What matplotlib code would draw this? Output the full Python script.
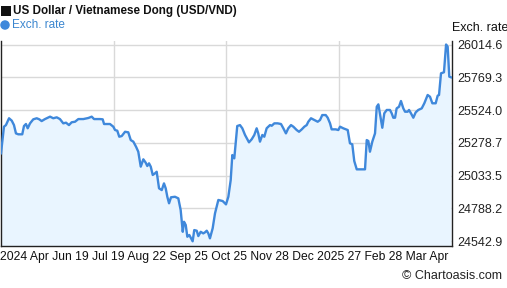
import matplotlib
matplotlib.use("Agg")
import matplotlib.pyplot as plt
from matplotlib.patches import Rectangle, Ellipse
import numpy as np

plt.rcParams['font.family'] = ['Liberation Sans', 'DejaVu Sans']

# day offset from start of period (~1 year) and USD/VND rate
days = [0, 2.4, 4, 6.5, 8.7, 10.5, 12.1, 14, 17.2, 18.6, 20.2, 21.6, 23.5, 26.1, 28.9, 31, 32.9, 35.6,
        39.7, 42.3, 45.1, 47.7, 50.4, 52.6, 55, 57.2, 59.9, 62.6, 66.6, 70.7, 73.4, 75.3, 80.1, 82.3,
        83.4, 88.2, 90.9, 92.3, 94.1, 95.7, 97.7, 100.4, 103, 105, 107.1, 109.3, 111.1, 113.1, 115.2,
        117.1, 118.4, 119.8, 121.2, 122.8, 124.6, 126, 127.9, 130.1, 131.9, 133.3, 134.6, 136, 137.6,
        140.8, 143.5, 145.4, 147.1, 148.1, 149.5, 150.8, 152.4, 153.8, 155.1, 156.4, 158.4, 159.7,
        161.6, 163.7, 165.1, 166.5, 167.8, 169.1, 171.3, 173.2, 175.9, 179.4, 182.1, 184, 185.9,
        187.2, 188.8, 191.2, 193.4, 195.3, 197.5, 200.7, 202.9, 205, 206.9, 208.2, 209.6, 211.5,
        213.1, 215, 216.3, 217.7, 219.1, 221.2, 223.9, 226.6, 228.5, 230.6, 232.5, 234.7, 236.6,
        239.3, 241.2, 243.4, 245.5, 247.4, 248.7, 250.9, 253.6, 256.3, 258.2, 260, 262.8, 264.4,
        266.3, 267.6, 270.9, 273, 274.4, 277, 280.6, 282.4, 284.3, 285.9, 287.9, 294.6, 296, 297.3,
        298.6, 300.5, 302.7, 304.1, 305.4, 307.3, 308.6, 310.2, 312.2, 314.8, 316.2, 317.5, 318.9,
        320.2, 322.1, 323.7, 325.6, 327, 329.1, 330.2, 331.8, 333.7, 335.6, 337.7, 340.5, 342.6,
        345.3, 347.2, 349.1, 351.8, 353.4, 354.5, 356.1, 358.5, 360.2, 361.5, 362.8, 364.2]
rate = [25201, 25400, 25412, 25463, 25445, 25412, 25350, 25343, 25343, 25405, 25420, 25388, 25425,
        25455, 25463, 25455, 25442, 25457, 25475, 25463, 25470, 25457, 25425, 25430, 25412, 25433,
        25437, 25457, 25457, 25465, 25475, 25457, 25457, 25455, 25420, 25420, 25400, 25375, 25370,
        25325, 25330, 25362, 25358, 25300, 25288, 25250, 25213, 25101, 25156, 25131, 25106, 25126,
        25101, 25039, 25051, 25063, 24939, 24926, 24976, 24939, 24876, 24827, 24872, 24876, 24864,
        24777, 24614, 24689, 24665, 24577, 24590, 24565, 24542.9, 24627, 24622, 24582, 24614, 24602,
        24610, 24622, 24602, 24565, 24640, 24752, 24852, 24844, 24819, 24876, 25001,
        25188, 25163, 25405, 25412, 25388, 25338, 25283, 25306, 25338, 25388, 25350, 25288, 25338,
        25325, 25388, 25400, 25412, 25407, 25425, 25425, 25420, 25388, 25350, 25388, 25412, 25400,
        25375, 25362, 25380, 25400, 25412, 25437, 25463, 25450, 25437, 25450, 25487, 25487, 25467,
        25425, 25380, 25380, 25375, 25400, 25388, 25375, 25276, 25268, 25143, 25081, 25081, 25300,
        25293, 25213, 25288, 25350, 25549, 25567, 25463, 25392, 25500, 25525, 25525, 25500, 25467,
        25467, 25537, 25549, 25592, 25537, 25512, 25512, 25525, 25500, 25467, 25507, 25525, 25537,
        25575, 25637, 25624, 25575, 25575, 25632, 25637, 25799, 25807, 26014.6, 25998, 25774, 25769.3]

yticks = [24542.9, 24788.2, 25033.5, 25278.7, 25524.0, 25769.3, 26014.6]
xlabel_tokens = ["2024", "Apr", "Jun", "19", "Jul", "19", "Aug", "22", "Sep", "25", "Oct", "25",
                 "Nov", "28", "Dec", "2025", "27", "Feb", "28", "Mar", "Apr"]

line_c = '#3f88db'
fill_c = '#e9f5ff'

fig = plt.figure(figsize=(5.07, 2.88), dpi=100)
W, H = 507, 288
ax = fig.add_axes([1 / W, (H - 245.5) / H, 451 / W, (245.5 - 41) / H])

ax.fill_between(days, rate, 24400, color=fill_c, linewidth=0, zorder=1)
ax.plot(days, rate, color=line_c, linewidth=1.7, zorder=3)

ax.set_xlim(0, 365)
ax.set_ylim(24511.5, 26040.8)
ax.set_yticks(yticks)
ax.set_yticklabels([f"{v:.1f}" for v in yticks])
ax.yaxis.tick_right()
ax.tick_params(axis='y', length=0, pad=4, labelsize=9, labelcolor='#222222')
ax.set_xticks([365 * 0.25, 365 * 0.5, 365 * 0.75])
ax.tick_params(axis='x', length=0, labelbottom=False)
ax.grid(True, color='#d9d9d9', linewidth=1, zorder=0)
ax.set_axisbelow(True)
for s in ['left', 'bottom', 'right']:
    ax.spines[s].set_color('#222222')
    ax.spines[s].set_linewidth(1)
ax.spines['top'].set_visible(False)

# x labels
fig.text(0.5 / W, 1 - 257 / H, " ".join(xlabel_tokens), fontsize=8.75, va='center', ha='left',
         color='#111111')

# title and legend
fig.patches.append(Rectangle((1 / W, 1 - 16 / H), 10 / W, 10 / H, transform=fig.transFigure,
                             facecolor='#111111', edgecolor='none'))
fig.text(13 / W, 1 - 11 / H, "US Dollar / Vietnamese Dong (USD/VND)", fontsize=8.4,
         fontweight='bold', va='center', ha='left', color='#111111')
fig.patches.append(Ellipse((5 / W, 1 - 25 / H), 9.5 / W, 9.5 / H, transform=fig.transFigure,
                           facecolor=line_c, edgecolor='none'))
fig.text(11.5 / W, 1 - 25 / H, "Exch. rate", fontsize=8.5, va='center', ha='left', color='#3b86cf')
fig.text(452 / W, 1 - 28 / H, "Exch. rate", fontsize=9, va='center', ha='left', color='#111111')
fig.text(502 / W, 1 - 276 / H, "\u00A9 Chartoasis.com", fontsize=9, va='center', ha='right',
         color='#222222')

fig.savefig("out.png", dpi=100)
